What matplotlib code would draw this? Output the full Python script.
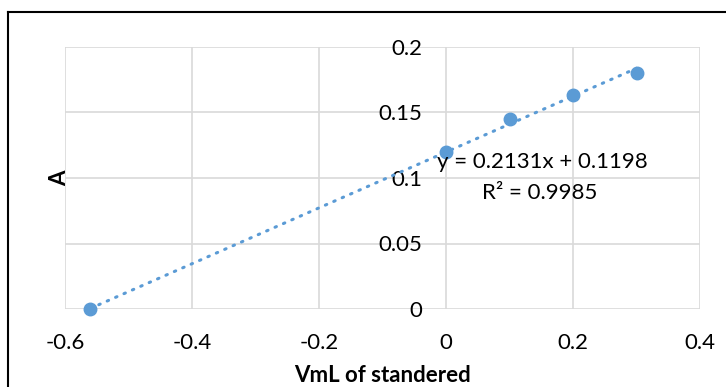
import numpy as np
import matplotlib.pyplot as plt
from matplotlib.lines import Line2D

# standard curve data
vml = [-0.56, 0.0, 0.1, 0.2, 0.3]
absorb = [0.0, 0.12, 0.145, 0.163, 0.18]

# linear trendline coefficients
slope = 0.2131
intercept = 0.1198
r2 = 0.9985

x_ticks = [-0.6, -0.4, -0.2, 0, 0.2, 0.4]
y_ticks = [0, 0.05, 0.1, 0.15, 0.2]

blue = "#5b9bd5"
grid_gray = "#d9d9d9"

plt.rcParams['font.family'] = ['Lato', 'DejaVu Sans']

fig = plt.figure(figsize=(7.26, 3.87), dpi=100)
ax = fig.add_axes([65/726, 1 - 309/387, 635/726, 262/387])

# chart frame
fig.add_artist(Line2D([8/726, 8/726], [0, 1 - 12/387], color="black", lw=1.5))
fig.add_artist(Line2D([8/726, 1], [1 - 12/387, 1 - 12/387], color="black", lw=1.5))

ax.set_xlim(-0.6, 0.4)
ax.set_ylim(0, 0.2)
ax.set_xticks(x_ticks)
ax.set_yticks(y_ticks)
ax.set_xticklabels(["-0.6", "-0.4", "-0.2", "0", "0.2", "0.4"])
ax.set_yticklabels(["0", "0.05", "0.1", "0.15", "0.2"])

ax.grid(True, color=grid_gray, lw=1.2)
ax.set_axisbelow(True)
for s in ["top", "right", "bottom"]:
    ax.spines[s].set_visible(False)
ax.spines["left"].set_position(("data", 0))
ax.spines["left"].set_color("none")
ax.tick_params(axis="both", length=0, labelsize=16)
ax.tick_params(axis="y", pad=17)
ax.tick_params(axis="x", pad=17)

# trendline
xt = np.array([min(vml), max(vml)])
ax.plot(xt, slope * xt + intercept, color=blue, lw=2.2, ls=(0, (0.5, 2.5)),
        dash_capstyle="round", zorder=2)
ax.plot(vml, absorb, "o", color=blue, ms=9, zorder=3, clip_on=False)

ax.text(0.151, 0.1122, f"y = {slope}x + {intercept}", fontsize=16, ha="center", va="center")
ax.text(0.148, 0.0885, f"R² = {r2}", fontsize=16, ha="center", va="center")

ax.set_xlabel("VmL of standered", fontsize=16, fontweight="bold", labelpad=9)
fig.text(60/726, 1 - 178/387, "A", fontsize=16, fontweight="bold",
         rotation=90, ha="center", va="center")

fig.savefig("out.png", dpi=100)
